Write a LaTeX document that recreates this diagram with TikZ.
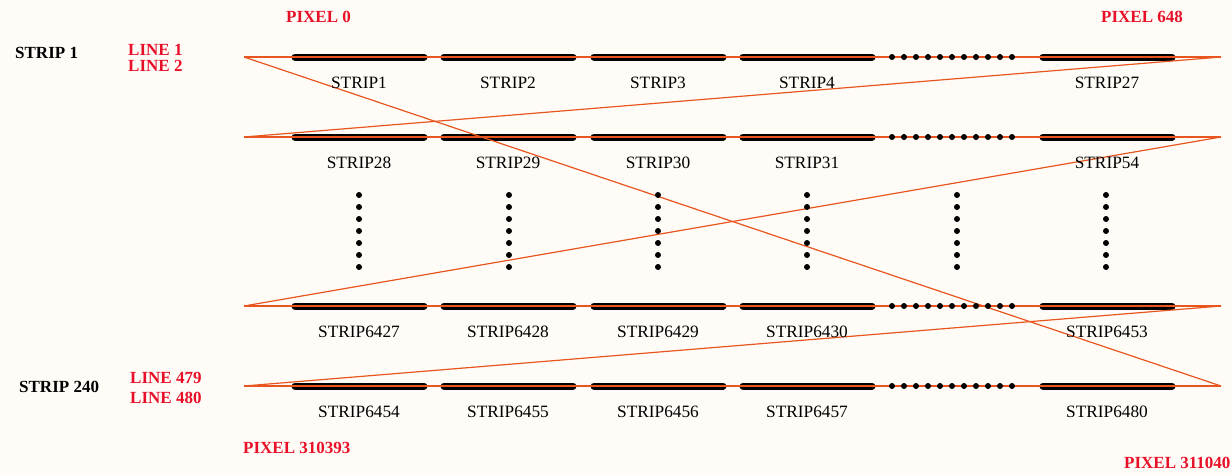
\documentclass[tikz,border=0pt]{standalone}
\usepackage{fontspec}
\setmainfont{Liberation Serif}
\definecolor{bg}{RGB}{255,252,247}
\definecolor{scan}{RGB}{232,85,30}
\definecolor{lbl}{RGB}{232,16,40}
\begin{document}
\begin{tikzpicture}[x=1pt,y=-1pt,
  bar/.style={line width=7pt,line cap=round,black},
  scanline/.style={scan,line width=1.2pt},
  tag/.style={inner sep=0pt,anchor=base west,font=\fontsize{17}{20}\selectfont\bfseries},
  redtag/.style={tag,text=lbl},
  striplbl/.style={inner sep=0pt,anchor=base,font=\fontsize{17.3}{20}\selectfont},
  dot/.style={circle,fill=black,inner sep=0pt,minimum size=6pt}]
\fill[bg] (0,0) rectangle (1232,475);
\useasboundingbox (0,0) rectangle (1232,475);
% row end points
\foreach \r/\y in {1/57,2/137,3/306,4/386}{
  \coordinate (L\r) at (244,\y);
  \coordinate (R\r) at (1221,\y);
  \foreach \k/\s in {1/292,2/441,3/591,4/740,5/1040}{
    \coordinate (s\r-\k) at (\s+3,\y);
    \coordinate (e\r-\k) at (\s+132,\y);
  }
}
% bars
\foreach \r in {1,2,3,4}{
  \foreach \k in {1,...,5}{
    \draw[bar] (s\r-\k) -- (e\r-\k);
  }
}
% scan lines
\foreach \r in {1,2,3,4}{ \draw[scanline] (L\r) -- (R\r); }
\draw[scanline] (R1) -- (L2);
\draw[scanline] (R2) -- (L3);
\draw[scanline] (R3) -- (L4);
\draw[scanline] (L1) -- (R4);
% horizontal dots
\foreach \r/\y in {1/57,2/137,3/306,4/386}{
  \foreach \i in {0,...,10}{
    \node[dot] (hd\r-\i) at (892+12*\i,\y) {};
  }
}
% vertical dots
\foreach \c/\x in {1/359,2/509,3/658,4/807,5/957,6/1106}{
  \foreach \j in {0,...,6}{
    \node[dot] (vd\c-\j) at (\x,195+12*\j) {};
  }
}
% strip labels
\foreach \r/\y/\a/\b/\c/\d/\e in {1/88/1/2/3/4/27, 2/168/28/29/30/31/54, 3/337/6427/6428/6429/6430/6453, 4/417/6454/6455/6456/6457/6480}{
  \node[striplbl] (t\r-1) at (359,\y) {STRIP\a};
  \node[striplbl] (t\r-2) at (508,\y) {STRIP\b};
  \node[striplbl] (t\r-3) at (658,\y) {STRIP\c};
  \node[striplbl] (t\r-4) at (807,\y) {STRIP\d};
  \node[striplbl] (t\r-5) at (1107,\y) {STRIP\e};
}
% side labels
\node[tag] (strip1) at (15,58) {STRIP 1};
\node[tag] (strip240) at (19,392) {STRIP 240};
\node[redtag] (line1) at (128,55) {LINE 1};
\node[redtag] (line2) at (128,71) {LINE 2};
\node[redtag] (line479) at (130,383) {LINE 479};
\node[redtag] (line480) at (130,403) {LINE 480};
\node[redtag] (px0) at (286,22) {PIXEL 0};
\node[redtag] (px648) at (1101,22) {PIXEL 648};
\node[redtag] (px310393) at (243,453) {PIXEL 310393};
\node[redtag] (px311040) at (1124,468) {PIXEL 311040};
\end{tikzpicture}
\end{document}
